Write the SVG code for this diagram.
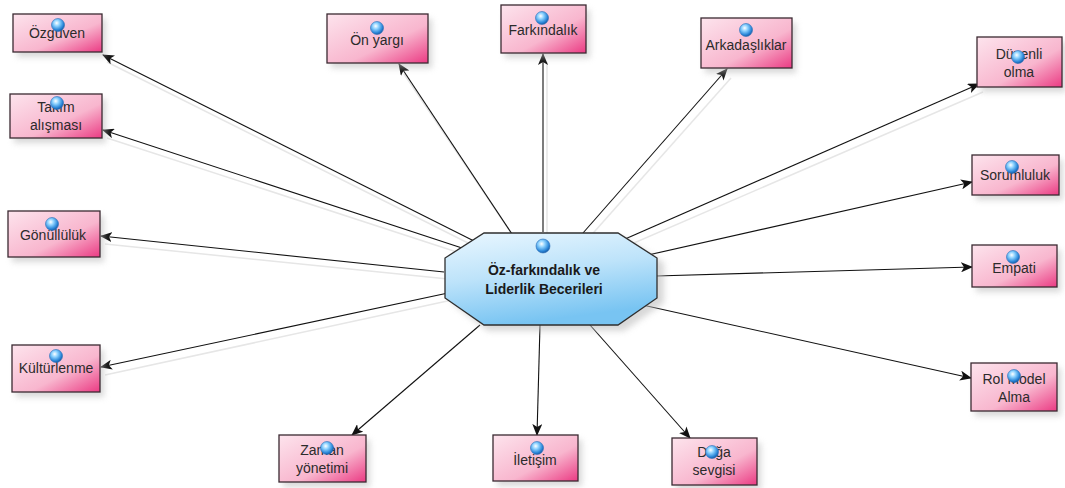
<svg xmlns="http://www.w3.org/2000/svg" width="1065" height="488" viewBox="0 0 1065 488">
<defs>
<linearGradient id="pink" x1="0" y1="0" x2="1" y2="1">
<stop offset="0" stop-color="#fde4ed"/>
<stop offset="0.6" stop-color="#f8b6ce"/>
<stop offset="1" stop-color="#eb3a83"/>
</linearGradient>
<linearGradient id="blue" x1="0" y1="0" x2="0.3" y2="1">
<stop offset="0" stop-color="#eaf7ff"/>
<stop offset="0.5" stop-color="#bde3fa"/>
<stop offset="1" stop-color="#78c4f2"/>
</linearGradient>
<radialGradient id="ball" cx="0.4" cy="0.35" r="0.65">
<stop offset="0" stop-color="#ffffff"/>
<stop offset="0.35" stop-color="#8fd3ff"/>
<stop offset="0.8" stop-color="#2a86d8"/>
<stop offset="1" stop-color="#1a5fa8"/>
</radialGradient>
<filter id="sh" x="-20%" y="-20%" width="150%" height="160%">
<feGaussianBlur stdDeviation="3"/>
</filter>
<marker id="ah" viewBox="0 0 12 10" refX="11" refY="5" markerWidth="12" markerHeight="10" markerUnits="userSpaceOnUse" orient="auto">
<path d="M0,0 L12,5 L0,10 L3,5 Z" fill="#111"/>
</marker>
</defs>
<style>
.box{fill:url(#pink);stroke:#3b2a32;stroke-width:1.3}
.shadow{fill:#b8b8b8;opacity:0.55;filter:url(#sh)}
.t{font-family:"Liberation Sans",Arial,sans-serif;font-size:14px;fill:#2b2b2b;text-anchor:middle}
.ct{font-family:"Liberation Sans",Arial,sans-serif;font-size:14px;font-weight:bold;fill:#1a1a1a;text-anchor:middle}
.ball{fill:url(#ball);stroke:#2a6fb8;stroke-width:0.6}
.c{stroke:#111;stroke-width:1.1;fill:none;marker-end:url(#ah)}
.cs{stroke:#e6e6e6;stroke-width:1.5;fill:none}
</style>
<rect width="1065" height="488" fill="#ffffff"/>

<g id="connectors">
<g>
<line class="cs" x1="482" y1="250" x2="107" y2="62"/>
<line class="cs" x1="516" y1="240" x2="404" y2="74"/>
<line class="cs" x1="547" y1="238" x2="547" y2="62"/>
<line class="cs" x1="587" y1="240" x2="731" y2="78"/>
<line class="cs" x1="604" y1="256" x2="983" y2="92"/>
<line class="cs" x1="466" y1="255" x2="107" y2="138"/>
<line class="cs" x1="448" y1="279" x2="105" y2="244"/>
<line class="cs" x1="452" y1="300" x2="105" y2="375"/>
</g>
<line class="c" x1="478" y1="243" x2="103" y2="55"/>
<line class="c" x1="512" y1="234" x2="399" y2="64"/>
<line class="c" x1="543" y1="232" x2="543" y2="54"/>
<line class="c" x1="583" y1="233" x2="727" y2="69"/>
<line class="c" x1="600" y1="250" x2="979" y2="84"/>
<line class="c" x1="617" y1="262" x2="972" y2="182"/>
<line class="c" x1="656" y1="276" x2="972" y2="267"/>
<line class="c" x1="620" y1="300" x2="971" y2="378"/>
<line class="c" x1="590" y1="325" x2="690" y2="438"/>
<line class="c" x1="540" y1="325" x2="537" y2="435"/>
<line class="c" x1="480" y1="325" x2="352" y2="435"/>
<line class="c" x1="448" y1="293" x2="101" y2="367"/>
<line class="c" x1="444" y1="272" x2="101" y2="236"/>
<line class="c" x1="462" y1="248" x2="103" y2="130"/>
</g>

<g id="center">
<polygon class="shadow" points="488,238 624,238 664,263 664,303 624,331 488,331 452,303 452,263"/>
<polygon points="484,233 618,233 657,258 657,298 618,325 484,325 445,298 445,258" fill="url(#blue)" stroke="#2e2e2e" stroke-width="1.3"/>
<circle class="ball" cx="543" cy="246" r="7"/>
<text class="ct" x="544" y="275">Öz-farkındalık ve</text>
<text class="ct" x="544" y="294">Liderlik Becerileri</text>
</g>

<g id="n-ozguven">
<rect class="shadow" x="17" y="19" width="89" height="38"/>
<rect class="box" x="13" y="14" width="89" height="38"/>
<text class="t" x="57" y="38">Özgüven</text>
<circle class="ball" cx="58" cy="25" r="6.5"/>
</g>

<g id="n-onyargi">
<rect class="shadow" x="331" y="19" width="101" height="49"/>
<rect class="box" x="327" y="14" width="101" height="49"/>
<text class="t" x="377" y="45">Ön yargı</text>
<circle class="ball" cx="377" cy="28" r="6.5"/>
</g>

<g id="n-farkindalik">
<rect class="shadow" x="505" y="10" width="85" height="48"/>
<rect class="box" x="501" y="5" width="85" height="48"/>
<text class="t" x="543" y="35">Farkındalık</text>
<circle class="ball" cx="542" cy="18" r="6.5"/>
</g>

<g id="n-arkadasliklar">
<rect class="shadow" x="705" y="23" width="91" height="50"/>
<rect class="box" x="701" y="18" width="91" height="50"/>
<text class="t" x="746" y="50">Arkadaşlıklar</text>
<circle class="ball" cx="746" cy="30" r="6.5"/>
</g>

<g id="n-duzenli">
<rect class="shadow" x="981" y="42" width="85" height="50"/>
<rect class="box" x="977" y="37" width="85" height="50"/>
<text class="t" x="1019" y="59">Düzenli</text>
<text class="t" x="1019" y="77">olma</text>
<circle class="ball" cx="1018" cy="57" r="6.5"/>
</g>

<g id="n-takim">
<rect class="shadow" x="14" y="99" width="92" height="44"/>
<rect class="box" x="10" y="94" width="92" height="44"/>
<text class="t" x="56" y="112">Takım</text>
<text class="t" x="56" y="130">alışması</text>
<circle class="ball" cx="57" cy="103" r="6.5"/>
</g>

<g id="n-sorumluluk">
<rect class="shadow" x="976" y="160" width="87" height="40"/>
<rect class="box" x="972" y="155" width="87" height="40"/>
<text class="t" x="1015" y="180">Sorumluluk</text>
<circle class="ball" cx="1012" cy="167" r="6.5"/>
</g>

<g id="n-gonulluluk">
<rect class="shadow" x="12" y="216" width="92" height="46"/>
<rect class="box" x="8" y="211" width="92" height="46"/>
<text class="t" x="53" y="240">Gönüllülük</text>
<circle class="ball" cx="52" cy="224" r="6.5"/>
</g>

<g id="n-empati">
<rect class="shadow" x="976" y="250" width="85" height="42"/>
<rect class="box" x="972" y="245" width="85" height="42"/>
<text class="t" x="1014" y="273">Empati</text>
<circle class="ball" cx="1013" cy="257" r="6.5"/>
</g>

<g id="n-kulturlenme">
<rect class="shadow" x="16" y="350" width="88" height="47"/>
<rect class="box" x="12" y="345" width="88" height="47"/>
<text class="t" x="56" y="373">Kültürlenme</text>
<circle class="ball" cx="56" cy="356" r="6.5"/>
</g>

<g id="n-rolmodel">
<rect class="shadow" x="975" y="368" width="86" height="48"/>
<rect class="box" x="971" y="363" width="86" height="48"/>
<text class="t" x="1014" y="384">Rol Model</text>
<text class="t" x="1014" y="402">Alma</text>
<circle class="ball" cx="1014" cy="376" r="6.5"/>
</g>

<g id="n-zaman">
<rect class="shadow" x="283" y="440" width="87" height="47"/>
<rect class="box" x="279" y="435" width="87" height="47"/>
<text class="t" x="322" y="455">Zaman</text>
<text class="t" x="322" y="473">yönetimi</text>
<circle class="ball" cx="327" cy="448" r="6.5"/>
</g>

<g id="n-iletisim">
<rect class="shadow" x="497" y="440" width="85" height="46"/>
<rect class="box" x="493" y="435" width="85" height="46"/>
<text class="t" x="535" y="465">İletişim</text>
<circle class="ball" cx="537" cy="448" r="6.5"/>
</g>

<g id="n-doga">
<rect class="shadow" x="676" y="443" width="85" height="47"/>
<rect class="box" x="672" y="438" width="85" height="47"/>
<text class="t" x="714" y="457">Doğa</text>
<text class="t" x="714" y="475">sevgisi</text>
<circle class="ball" cx="712" cy="452" r="6.5"/>
</g>
</svg>
